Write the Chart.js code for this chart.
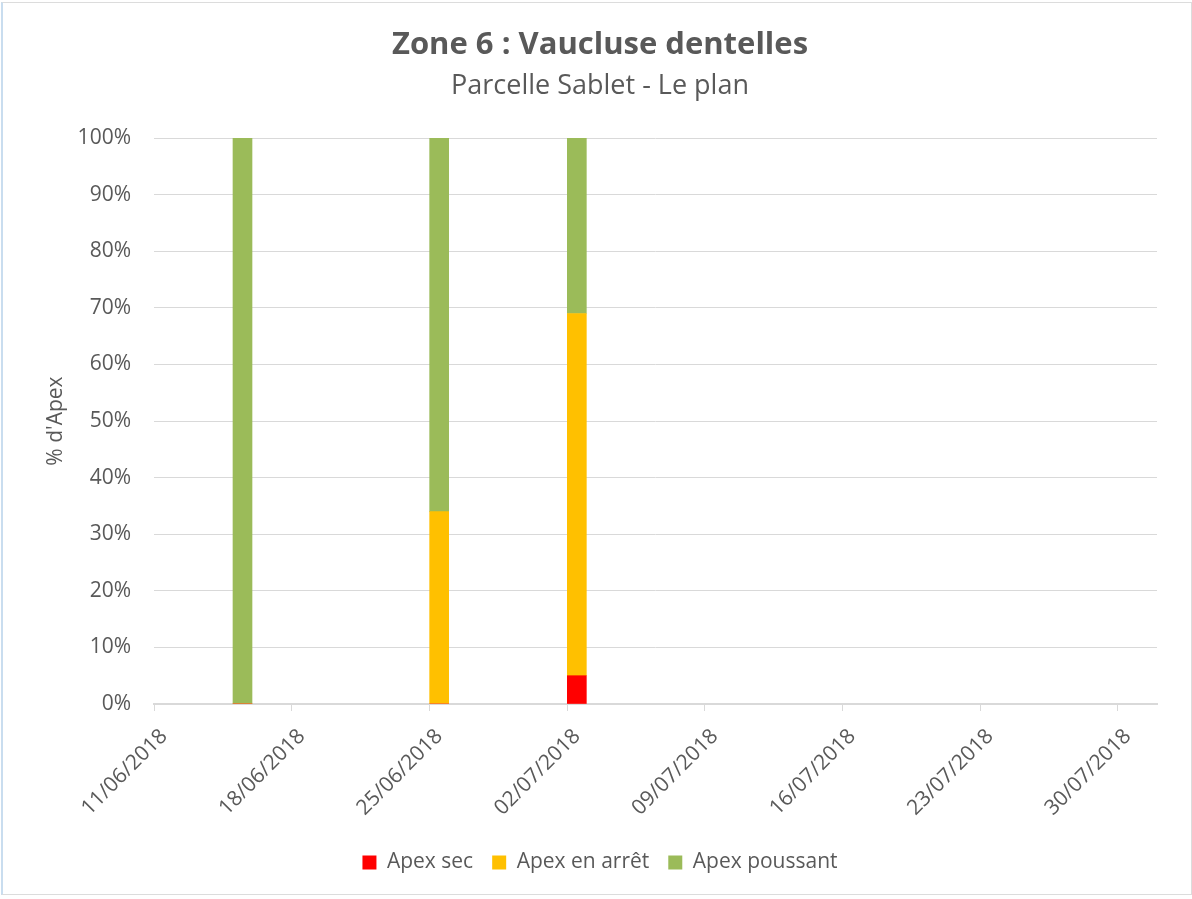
<!DOCTYPE html>
<html>
<head>
<meta charset="utf-8">
<title>Zone 6 : Vaucluse dentelles</title>
<script src="https://cdn.jsdelivr.net/npm/chart.js@4/dist/chart.umd.min.js"></script>
<style>
	html, body { margin: 0; padding: 0; background: #fff; }
	#wrap { position: relative; width: 1192px; height: 899px; }
	#frame { position: absolute; left: 1px; top: 2px; width: 1188px; height: 891px;
		border: 1px solid #dcdcdc; border-left: 2px solid #c9ddef; pointer-events: none; }
</style>
</head>
<body>
<div id="wrap">
	<canvas id="chart" width="1192" height="899"></canvas>
	<div id="frame"></div>
</div>
<script>
;(function () {
	'use strict';

	// Observation dates (one bar per date)
	var dates = ['15/06/2018', '25/06/2018', '02/07/2018'];
	var apexSec = [0, 0, 5];
	var apexArret = [0, 34, 64];
	var apexPoussant = [100, 66, 31];

	// Date axis: weekly ticks
	var tickDates = ['11/06/2018', '18/06/2018', '25/06/2018', '02/07/2018',
		'09/07/2018', '16/07/2018', '23/07/2018', '30/07/2018'];
	var axisStart = '11/06/2018';
	var axisEnd = '01/08/2018';

	var yTicks = [0, 10, 20, 30, 40, 50, 60, 70, 80, 90, 100];

	var FONT = '"Open Sans", Lato, sans-serif';
	var TEXT = '#595959';
	var GRID = '#d9d9d9';

	function toDay(str) {
		var p = str.split('/');
		return Date.UTC(+p[2], +p[1] - 1, +p[0]) / 86400000;
	}
	var day0 = toDay(axisStart);
	function offset(str) {
		return toDay(str) - day0;
	}
	function label(v) {
		var d = new Date((day0 + v) * 86400000),
			dd = ('0' + d.getUTCDate()).slice(-2),
			mm = ('0' + (d.getUTCMonth() + 1)).slice(-2);
		return dd + '/' + mm + '/' + d.getUTCFullYear();
	}
	// each date fills its own day slot [d, d+1)
	function points(values) {
		return values.map(function (v, i) {
			return { x: offset(dates[i]) + 0.5, y: v };
		});
	}

	var tickValues = tickDates.map(offset);

	new Chart(document.getElementById('chart'), {
		type: 'bar',
		data: {
			datasets: [
				{ label: 'Apex sec', data: points(apexSec), backgroundColor: '#ff0000' },
				{ label: 'Apex en arrêt', data: points(apexArret), backgroundColor: '#ffc000' },
				{ label: 'Apex poussant', data: points(apexPoussant), backgroundColor: '#9bbb59' }
			]
		},
		options: {
			responsive: false,
			animation: false,
			barThickness: 19,
			layout: { padding: { left: 43, right: 35, top: 0, bottom: 16 } },
			plugins: {
				title: {
					display: true,
					text: 'Zone 6 : Vaucluse dentelles',
					color: TEXT,
					font: { family: FONT, size: 31, weight: 'bold' },
					padding: { top: 27, bottom: 0 }
				},
				subtitle: {
					display: true,
					text: 'Parcelle Sablet - Le plan',
					color: TEXT,
					font: { family: FONT, size: 27 },
					padding: { top: 6, bottom: 35.5 }
				},
				legend: {
					position: 'bottom',
					labels: {
						color: TEXT,
						font: { family: FONT, size: 21 },
						boxWidth: 14,
						boxHeight: 14,
						padding: 19
					}
				},
				tooltip: { enabled: false }
			},
			scales: {
				x: {
					type: 'linear',
					stacked: true,
					offset: false,
					min: 0,
					max: offset(axisEnd),
					afterBuildTicks: function (scale) {
						scale.ticks = tickValues.map(function (v) { return { value: v }; });
					},
					afterFit: function (scale) { scale.height = 129; },
					border: { color: GRID, width: 2 },
					grid: { offset: false, drawOnChartArea: false, drawTicks: true, tickLength: 7, color: GRID },
					ticks: {
						color: TEXT,
						font: { family: FONT, size: 21 },
						minRotation: 45,
						maxRotation: 45,
						autoSkip: false,
						padding: 13,
						labelOffset: 10,
						callback: function (v) { return label(v); }
					}
				},
				y: {
					stacked: true,
					min: 0,
					max: 100,
					afterBuildTicks: function (scale) {
						scale.ticks = yTicks.map(function (v) { return { value: v }; });
					},
					afterFit: function (scale) { scale.width = 111; },
					border: { display: false },
					grid: { color: GRID, lineWidth: 1, drawTicks: false },
					title: {
						display: true,
						text: "% d'Apex",
						color: TEXT,
						font: { family: FONT, size: 21 },
						padding: 0
					},
					ticks: {
						color: TEXT,
						font: { family: FONT, size: 21 },
						padding: 23,
						callback: function (v) { return v + '%'; }
					}
				}
			}
		}
	});
})();
</script>
</body>
</html>
